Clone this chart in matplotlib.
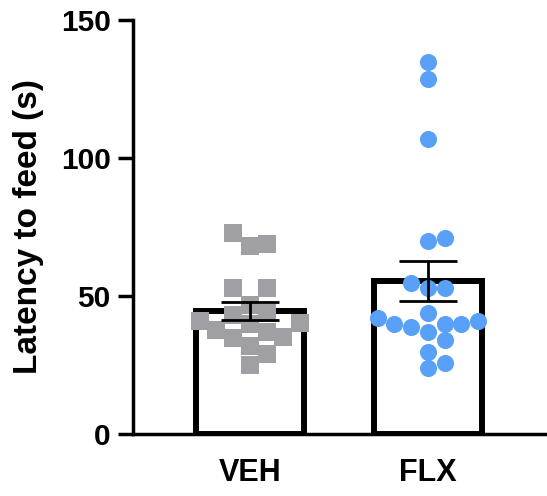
import numpy as np
import matplotlib
matplotlib.use("Agg")
import matplotlib.pyplot as plt

groups = ["VEH", "FLX"]
veh = [72.8, 68.8, 68.1, 52.9, 52.9, 46.7, 43.1, 40.2, 37.0, 39.8, 40.9,
       35.1, 37.7, 34.8, 31.9, 29.0, 25.0, 43.8]
flx = [134.8, 128.6, 106.9, 69.9, 71.0, 54.7, 52.9, 52.9, 43.8, 38.8, 39.9,
       40.9, 42.0, 39.9, 39.9, 36.9, 34.0, 29.7, 25.7, 23.9]
colors = ["#A0A0A4", "#58A0F8"]
markers = ["s", "o"]

plt.rcParams['font.family'] = ['Liberation Sans', 'DejaVu Sans']
plt.rcParams['font.weight'] = 'bold'

fig = plt.figure(figsize=(5.47, 4.96), dpi=100)
ax = fig.add_axes([0.2431, 0.125, 0.7569, 0.8347])
ax.set_xlim(-0.657, 1.669)
ax.set_ylim(0, 150)

samples = [np.array(veh), np.array(flx)]
means = [s.mean() for s in samples]
sems = [s.std(ddof=1) / np.sqrt(len(s)) for s in samples]
pos = np.arange(len(groups))

msize = 12.3  # points
step_px = msize * fig.dpi / 72 * 0.98


def grid_swarm(vals, center, square):
    # prism-like scatter: points snapped to columns one marker wide
    ypx = ax.transData.transform(np.column_stack([np.zeros(len(vals)), vals]))[:, 1]
    xpx_per_unit = ax.transData.transform([(1, 0)])[0, 0] - ax.transData.transform([(0, 0)])[0, 0]
    order = np.argsort(ypx)
    cols = np.zeros(len(vals))
    placed = []
    for i in order:
        for k in [0, 1, -1, 2, -2, 3, -3, 4, -4]:
            ok = True
            for j in placed:
                dx = abs(k - cols[j]) * step_px
                dy = abs(ypx[i] - ypx[j])
                if square:
                    hit = dx < step_px * 0.9 and dy < step_px * 1.05
                else:
                    hit = np.hypot(dx, dy) < step_px * 0.95
                if hit:
                    ok = False
                    break
            if ok:
                cols[i] = k
                break
        placed.append(i)
    return center + cols * step_px / xpx_per_unit


ax.bar(pos, means, width=0.607, color="white", edgecolor="black",
       linewidth=4.3, zorder=1)
for p, s, c, m in zip(pos, samples, colors, markers):
    ax.plot(grid_swarm(s, p, m == "s"), s, linestyle="none", marker=m,
            markersize=msize, color=c, markeredgewidth=0, zorder=2)
ax.errorbar(pos, means, yerr=sems, fmt="none", ecolor="black",
            elinewidth=2, capsize=21, capthick=2, zorder=3)

ax.set_yticks([0, 50, 100, 150])
ax.set_xticks(pos)
ax.set_xticklabels(groups)
ax.set_ylabel("Latency to feed (s)", fontsize=24, fontweight="bold")
ax.yaxis.set_label_coords(-0.215, 0.5)

for s in ["top", "right"]:
    ax.spines[s].set_visible(False)
for s in ["left", "bottom"]:
    ax.spines[s].set_linewidth(2.5)
ax.tick_params(axis="y", length=11, width=2.5, pad=5, labelsize=21.5)
ax.tick_params(axis="x", length=0, pad=17, labelsize=22)

fig.savefig("out.png", dpi=100)
